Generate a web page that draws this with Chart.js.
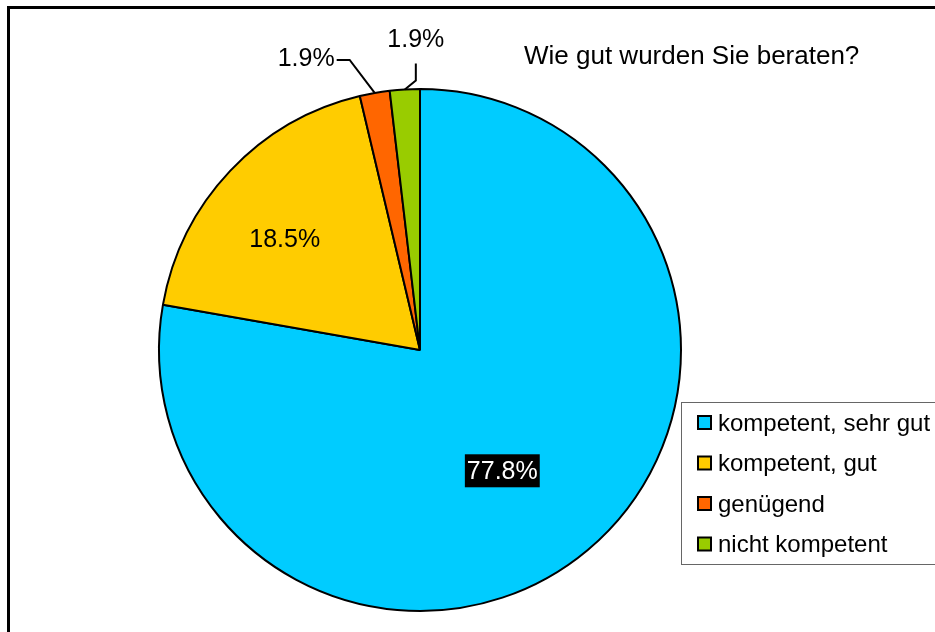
<!DOCTYPE html>
<html>
<head>
<meta charset="utf-8">
<script src="https://cdn.jsdelivr.net/npm/chart.js@4.4.1/dist/chart.umd.min.js"></script>
<style>
  body { margin: 0; background: #fff; }
  canvas { display: block; }
</style>
</head>
<body>
<canvas id="myChart" width="935" height="632"></canvas>
<script>
// Daten
var titel = 'Wie gut wurden Sie beraten?';
var kategorien = ['kompetent, sehr gut', 'kompetent, gut', 'genügend', 'nicht kompetent'];
var antworten = [42, 10, 1, 1];
var farben = ['#00CCFF', '#FFCC00', '#FF6600', '#99CC00'];

var schrift = '"Liberation Sans", Arial, Helvetica, sans-serif';

// Position der Prozentangaben (Radius-Faktor, Winkelverschiebung, Führungslinie)
var labelLayout = [
    { r: 0.56, da: 0.1, box: true },
    { r: 0.67, da: -0.07 },
    { leader: 'left' },
    { leader: 'up' }
];

function prozent(i) {
    var summe = antworten.reduce(function(a, b) { return a + b; }, 0);
    return (antworten[i] / summe * 100).toFixed(1) + '%';
}

var deko = {
    id: 'deko',
    afterDraw: function(chart) {
        var ctx = chart.ctx;
        var arcs = chart.getDatasetMeta(0).data;
        ctx.save();
        ctx.textBaseline = 'middle';
        ctx.font = '25px ' + schrift;

        arcs.forEach(function(arc, i) {
            var p = arc.getProps(['x', 'y', 'startAngle', 'endAngle', 'outerRadius']);
            var mid = (p.startAngle + p.endAngle) / 2;
            var lay = labelLayout[i];
            var txt = prozent(i);
            if (lay.leader) {
                var ex = p.x + p.outerRadius * Math.cos(mid);
                var ey = p.y + p.outerRadius * Math.sin(mid);
                ctx.strokeStyle = '#000';
                ctx.lineWidth = 2;
                ctx.beginPath();
                ctx.moveTo(ex, ey);
                ctx.fillStyle = '#000';
                if (lay.leader === 'left') {
                    ctx.lineTo(ex - 25, ey - 33);
                    ctx.lineTo(ex - 38, ey - 33);
                    ctx.stroke();
                    ctx.textAlign = 'right';
                    ctx.fillText(txt, ex - 40, ey - 34);
                } else {
                    ctx.lineTo(ex + 11, ey - 9);
                    ctx.lineTo(ex + 11, ey - 26);
                    ctx.stroke();
                    ctx.textAlign = 'center';
                    ctx.fillText(txt, ex + 11, ey - 49);
                }
            } else {
                var a = mid + lay.da;
                var lx = p.x + p.outerRadius * lay.r * Math.cos(a);
                var ly = p.y + p.outerRadius * lay.r * Math.sin(a);
                ctx.textAlign = 'center';
                if (lay.box) {
                    var w = ctx.measureText(txt).width + 4;
                    ctx.fillStyle = '#000';
                    ctx.fillRect(lx - w / 2, ly - 16.5, w, 33);
                    ctx.fillStyle = '#fff';
                } else {
                    ctx.fillStyle = '#000';
                }
                ctx.fillText(txt, lx, ly + 1);
            }
        });

        // Titel
        ctx.fillStyle = '#000';
        ctx.font = '26px ' + schrift;
        ctx.textAlign = 'left';
        ctx.fillText(titel, 524, 57);

        // Legende
        ctx.strokeStyle = '#666';
        ctx.lineWidth = 1;
        ctx.strokeRect(681.5, 402.5, 300, 162);
        ctx.font = '24px ' + schrift;
        kategorien.forEach(function(k, i) {
            var y = 423 + i * 40.5;
            ctx.fillStyle = farben[i];
            ctx.fillRect(698, y - 7, 13, 13);
            ctx.strokeStyle = '#000';
            ctx.lineWidth = 2;
            ctx.strokeRect(698, y - 7, 13, 13);
            ctx.fillStyle = '#000';
            ctx.fillText(k, 718, y + 1);
        });

        // Rahmen
        ctx.strokeStyle = '#000';
        ctx.lineWidth = 3;
        ctx.strokeRect(8.5, 7.5, 1000, 700);
        ctx.restore();
    }
};

var ctx = document.getElementById('myChart').getContext('2d');
var myChart = new Chart(ctx, {
    type: 'pie',
    data: {
        labels: kategorien,
        datasets: [{
            data: antworten,
            backgroundColor: farben,
            borderColor: '#000',
            borderWidth: 2,
            hoverOffset: 0
        }]
    },
    options: {
        responsive: false,
        animation: false,
        events: [],
        devicePixelRatio: 1,
        layout: {
            padding: { left: 158, right: 253, top: 88, bottom: 20 }
        },
        plugins: {
            legend: { display: false },
            tooltip: { enabled: false }
        }
    },
    plugins: [deko]
});
</script>
</body>
</html>
